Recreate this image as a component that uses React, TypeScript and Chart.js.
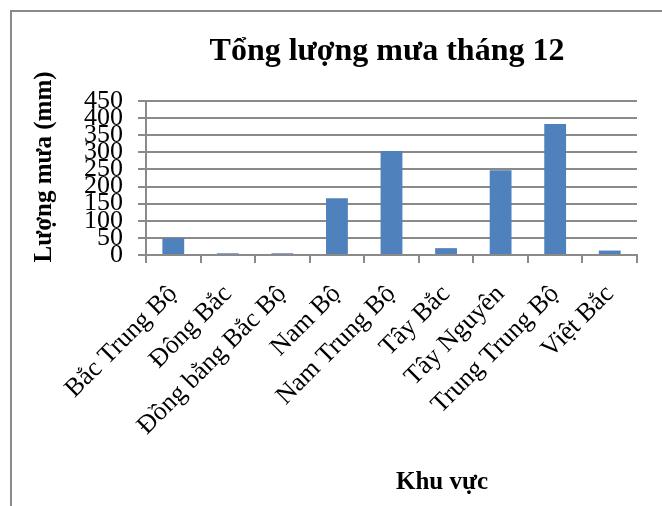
import React, { useEffect, useRef } from "react";
import { Chart, registerables } from "chart.js";

Chart.register(...registerables);

const categories = [
  "Bắc Trung Bộ",
  "Đông Bắc",
  "Đồng bằng Bắc Bộ",
  "Nam Bộ",
  "Nam Trung Bộ",
  "Tây Bắc",
  "Tây Nguyên",
  "Trung Trung Bộ",
  "Việt Bắc",
];
const rainfall = [49, 5, 5, 166, 304, 20, 248, 383, 13];
const yMin = 0;
const yMax = 450;
const yStep = 50;

const chartTitle = "Tổng lượng mưa tháng 12";
const xTitle = "Khu vực";
const yTitle = "Lượng mưa (mm)";

const FONT = "'Liberation Serif', 'Times New Roman', serif";
const GRID = "#8a8a8a";

const decorPlugin = {
  id: "decor",
  afterDraw(chart: any) {
    const ctx = chart.ctx;
    ctx.save();
    // frame
    ctx.strokeStyle = GRID;
    ctx.lineWidth = 2;
    ctx.beginPath();
    ctx.moveTo(11, 506);
    ctx.lineTo(11, 11);
    ctx.lineTo(662, 11);
    ctx.stroke();
    ctx.fillStyle = "#000";
    // title
    ctx.font = `bold 32px ${FONT}`;
    ctx.textAlign = "center";
    ctx.textBaseline = "alphabetic";
    ctx.fillText(chartTitle, 387, 60);
    // x title
    ctx.font = `bold 25px ${FONT}`;
    ctx.fillText(xTitle, 442, 489);
    // y title
    ctx.translate(51, 167);
    ctx.rotate(-Math.PI / 2);
    ctx.fillText(yTitle, 0, 0);
    ctx.restore();
  },
};

export default function App() {
  const ref = useRef<HTMLCanvasElement | null>(null);
  useEffect(() => {
    if (!ref.current) return;
    const chart = new Chart(ref.current, {
      type: "bar",
      data: {
        labels: categories,
        datasets: [
          {
            data: rainfall,
            backgroundColor: "#4F81BD",
            borderWidth: 0,
            categoryPercentage: 0.8,
            barPercentage: 0.5,
          },
        ],
      },
      options: {
        animation: false,
        responsive: false,
        maintainAspectRatio: false,
        layout: { padding: { top: 101, right: 25, left: 0, bottom: 0 } },
        plugins: {
          legend: { display: false },
          title: { display: false },
          tooltip: { enabled: false },
        },
        scales: {
          x: {
            grid: {
              drawOnChartArea: false,
              drawTicks: true,
              tickLength: 8,
              color: GRID,
              lineWidth: 2,
            },
            border: { color: GRID, width: 2 },
            ticks: {
              color: "#000",
              font: { family: FONT, size: 26 },
              maxRotation: 45,
              minRotation: 45,
              autoSkip: false,
              padding: 16,
            },
            afterFit: (s: any) => {
              s.height = 251;
            },
          },
          y: {
            min: yMin,
            max: yMax,
            grid: { color: GRID, lineWidth: 2, tickLength: 8 },
            border: { color: GRID, width: 2 },
            ticks: {
              stepSize: yStep,
              autoSkip: false,
              color: "#000",
              font: { family: FONT, size: 26 },
              padding: 15,
            },
            afterFit: (s: any) => {
              s.width = 146;
            },
          },
        },
      },
      plugins: [decorPlugin],
    });
    return () => chart.destroy();
  }, []);
  return (
    <div style={{ position: "fixed", left: 0, top: 0, width: 662, height: 506, background: "#fff" }}>
      <canvas ref={ref} width={662} height={506} style={{ width: 662, height: 506 }} />
    </div>
  );
}
